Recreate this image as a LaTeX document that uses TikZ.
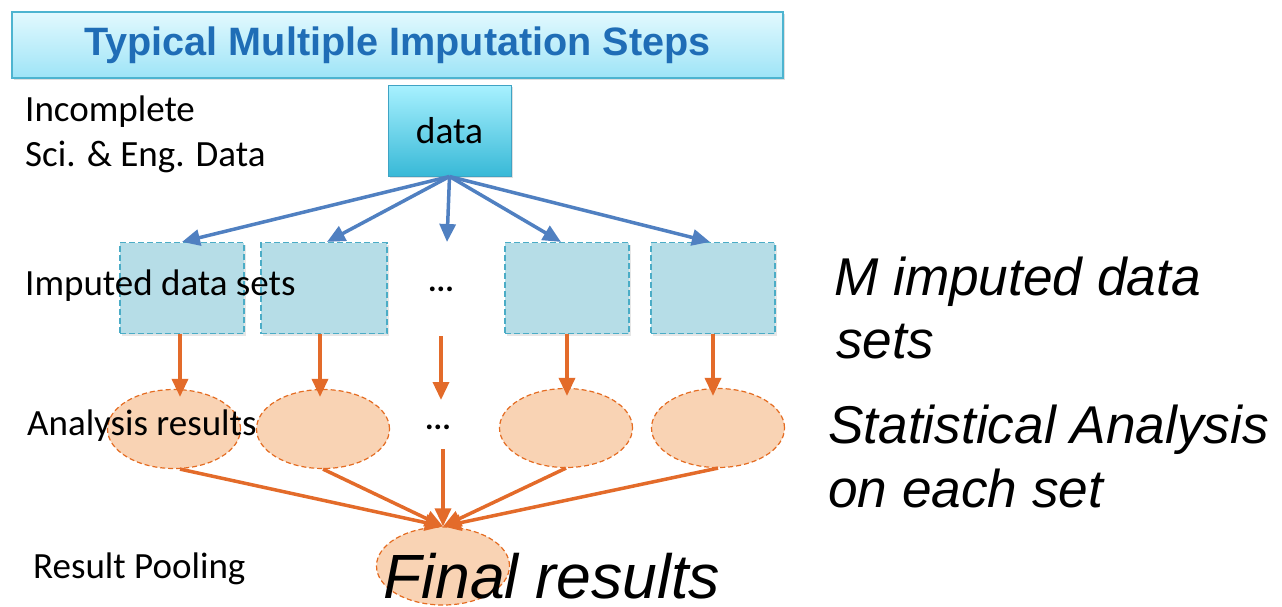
\documentclass[tikz,border=0pt]{standalone}
\usepackage{fontspec}
\setmainfont{Carlito}
\newfontfamily\arialfont{Liberation Sans}
\usetikzlibrary{arrows.meta,shapes.geometric,shadows}
\definecolor{titleblue}{HTML}{1F6DB6}
\definecolor{titletop}{HTML}{E2F9FE}
\definecolor{titlebot}{HTML}{9EE4F7}
\definecolor{titleedge}{HTML}{4DB4D0}
\definecolor{datatop}{HTML}{A8F1FF}
\definecolor{databot}{HTML}{38B9D7}
\definecolor{dataedge}{HTML}{3FA3C4}
\definecolor{boxfill}{HTML}{B6DDE7}
\definecolor{boxedge}{HTML}{4BACC6}
\definecolor{ellfill}{HTML}{F9D3B4}
\definecolor{elledge}{HTML}{E46C22}
\definecolor{arrblue}{HTML}{5080C1}
\definecolor{arrorange}{HTML}{E36B2A}
\tikzset{
  titlebox/.style={rectangle, draw=titleedge, line width=1.2pt, top color=titletop, bottom color=titlebot,
    minimum width=771pt, minimum height=66pt, inner sep=0pt,
    drop shadow={opacity=0.25, shadow xshift=1.5pt, shadow yshift=-2pt},
    font=\arialfont\bfseries\fontsize{39.6}{42}\selectfont, text=titleblue},
  databox/.style={rectangle, draw=dataedge, line width=1pt, top color=datatop, bottom color=databot,
    minimum width=123pt, minimum height=91pt, inner sep=0pt,
    drop shadow={opacity=0.25, shadow xshift=1.5pt, shadow yshift=-2pt},
    font=\fontsize{37.5}{40}\selectfont},
  setbox/.style={rectangle, draw=boxedge, fill=boxfill, line width=1.2pt, dash pattern=on 6pt off 3pt,
    minimum width=124pt, minimum height=91pt, inner sep=0pt,
    drop shadow={opacity=0.2, shadow xshift=1.5pt, shadow yshift=-2pt}},
  resell/.style={ellipse, draw=elledge, fill=ellfill, line width=1.2pt, dash pattern=on 5pt off 3pt,
    minimum width=133pt, minimum height=79pt, inner sep=0pt},
  lbl/.style={anchor=base west, inner sep=0pt, font=\fontsize{37}{40}\selectfont},
  bigital/.style={anchor=base west, inner sep=0pt, font=\arialfont\itshape\fontsize{53.2}{56}\selectfont},
  dotsl/.style={anchor=base, inner sep=0pt, font=\bfseries\fontsize{32}{34}\selectfont},
  bluearr/.style={draw=arrblue, line width=3.5pt, -{Triangle[length=18pt,width=16pt]}},
  orarr/.style={draw=arrorange, line width=3.5pt, -{Triangle[length=18pt,width=16pt]}}
}
\begin{document}
\begin{tikzpicture}[x=1pt,y=-1pt]
\useasboundingbox (0,0) rectangle (1282,606);

% title
\node[titlebox] (title) at (397.5,45) {Typical Multiple Imputation Steps};

% data box
\node[databox] (data) at (449.5,130.5) {data};
\node[lbl] (inc1) at (25,121) {Incomplete};
\node[lbl] (inc2) at (25,166) {Sci. \& Eng. Data};

% imputed sets
\node[setbox] (b1) at (182,288) {};
\node[setbox, minimum width=126pt] (b2) at (324,288) {};
\node[setbox] (b4) at (567,288) {};
\node[setbox] (b5) at (713,288) {};
\node[dotsl] (dots1) at (441,291) {...};
\coordinate (mid1) at (447,242);

% analysis ellipses
\node[resell] (e1) at (174,429) {};
\node[resell] (e2) at (323,429) {};
\node[resell] (e4) at (566,428) {};
\node[resell] (e5) at (718,428) {};
\node[dotsl] (dots2) at (438,429) {...};
\coordinate (mid2a) at (441,336);
\coordinate (mid2b) at (441,400);
\coordinate (mid3a) at (443,449);

% final
\node[resell, minimum height=78pt] (fin) at (443,566) {};

% labels drawn over shapes
\node[lbl] (implbl) at (25,295) {Imputed data sets};
\node[lbl] (anlbl) at (27,435) {Analysis results};
\node[lbl] (poollbl) at (33,578) {Result Pooling};

\node[bigital] (rt1) at (834,295) {M imputed data};
\node[bigital] (rt2) at (836,358) {sets};
\node[bigital] (rt3) at (828,443) {Statistical Analysis};
\node[bigital] (rt4) at (828,507) {on each set};

% blue arrows
\draw[bluearr] (data.south) -- (b1.north);
\draw[bluearr] (data.south) -- ([xshift=3pt]b2.north);
\draw[bluearr] (data.south) -- (mid1);
\draw[bluearr] (data.south) -- ([xshift=-6pt]b4.north);
\draw[bluearr] (data.south) -- ([xshift=-3pt]b5.north);

% orange arrows sets -> analysis
\draw[orarr, shorten >=-8pt] ([xshift=-2pt]b1.south) -- ([xshift=-2pt]b1.south |- e1.north);
\draw[orarr, shorten >=-8pt] ([xshift=-4pt]b2.south) -- ([xshift=-4pt]b2.south |- e2.north);
\draw[orarr] (mid2a) -- (mid2b);
\draw[orarr, shorten >=-8pt] (b4.south) -- (b4.south |- e4.north);
\draw[orarr, shorten >=-8pt] (b5.south) -- (b5.south |- e5.north);

% orange arrows analysis -> final
\draw[orarr] ([xshift=6pt]e1.south) -- (fin.north);
\draw[orarr] (e2.south) -- (fin.north);
\draw[orarr] (mid3a) -- (fin.north);
\draw[orarr] (e4.south) -- (fin.north);
\draw[orarr] (e5.south) -- (fin.north);

\node[bigital, font=\arialfont\itshape\fontsize{62.5}{66}\selectfont] (finlbl) at (383,598) {Final results};
\end{tikzpicture}
\end{document}
